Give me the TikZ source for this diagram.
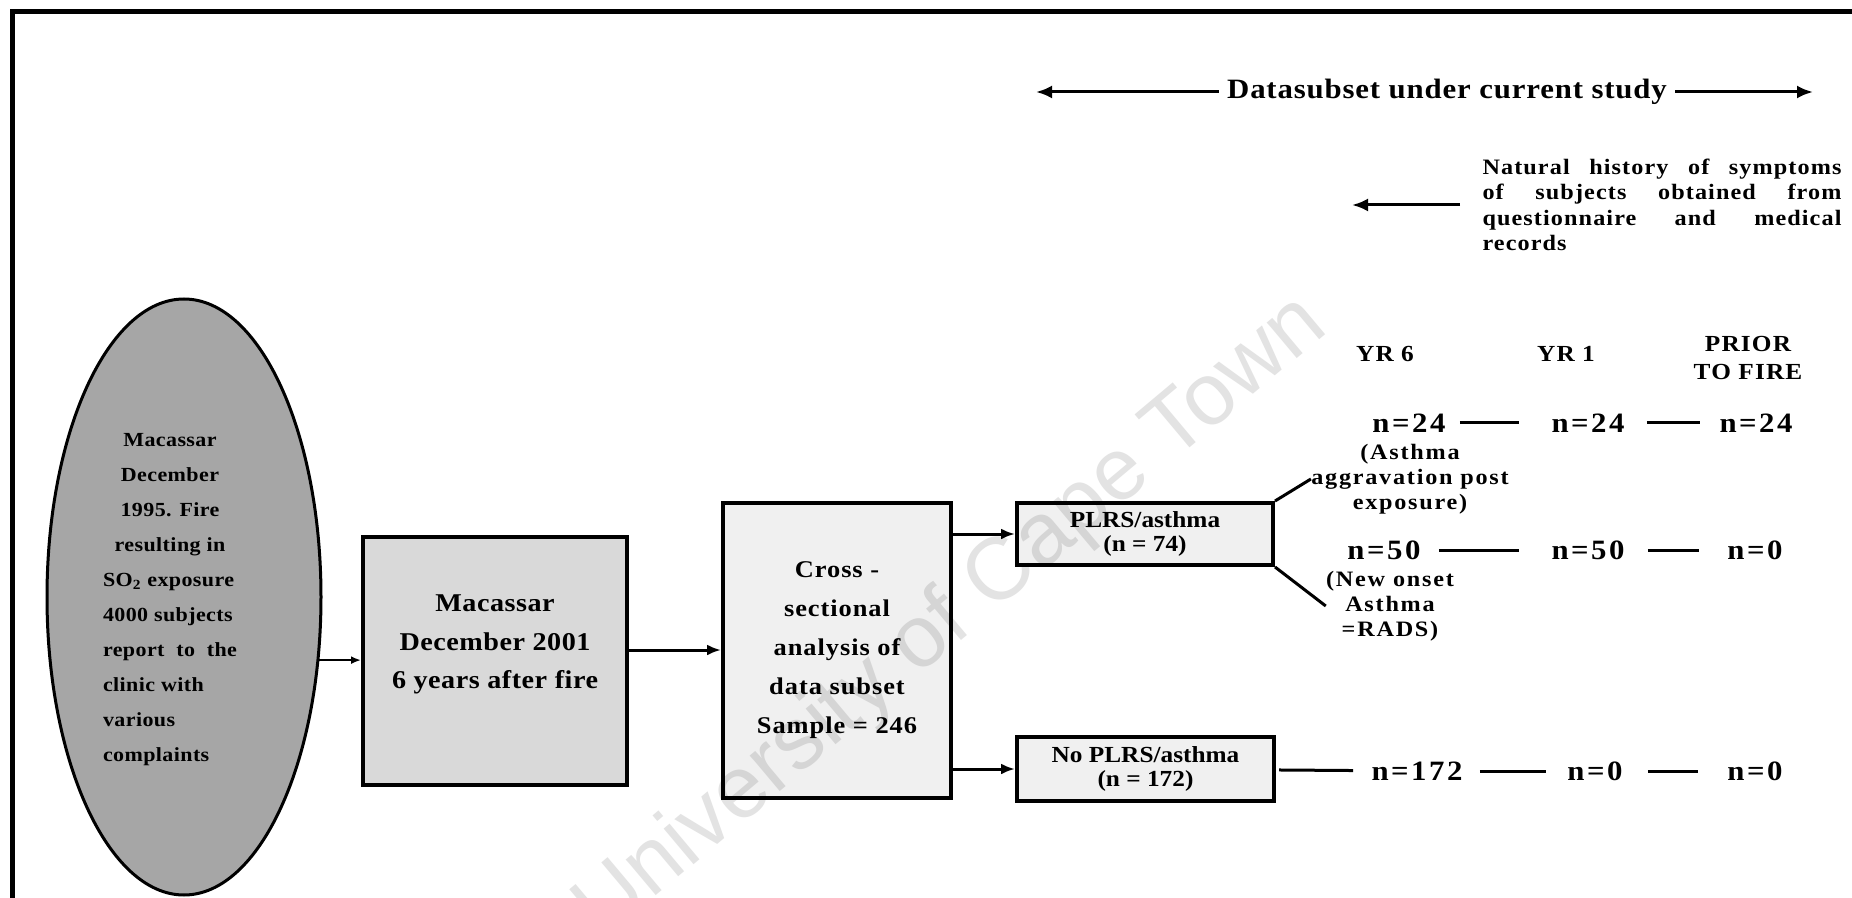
\documentclass[tikz,border=0pt]{standalone}
\usepackage{fontspec}
\setmainfont{Liberation Serif}[FakeStretch=1.1]
\setsansfont{Liberation Sans}
\usetikzlibrary{arrows.meta,positioning,shapes.geometric}

\begin{document}
\begin{tikzpicture}[
  x=0.5pt,y=-0.5pt,
  box/.style={draw,line width=2pt,inner sep=0pt,align=center},
  arrow/.style={-{Latex[length=7pt,width=5.5pt]},line width=1.5pt},
  link/.style={line width=1.5pt,shorten <=9pt,shorten >=12pt},
  value/.style={inner sep=0pt,font=\fontsize{14pt}{16pt}\selectfont\bfseries\addfontfeature{LetterSpace=9}},
  head/.style={inner sep=0pt,align=center,font=\fontsize{11.5pt}{13.5pt}\selectfont\bfseries\addfontfeature{LetterSpace=5}},
  note/.style={inner sep=0pt,align=center,font=\fontsize{11pt}{12.5pt}\selectfont\bfseries\addfontfeature{LetterSpace=8}}
]
\fill[white] (0,0) rectangle (1852,898);
\useasboundingbox (0,0) rectangle (1852,898);
\draw[line width=2.5pt] (12,898) -- (12,12) -- (1852,12);

% main flow
\node[ellipse,draw,line width=1.5pt,fill=black!35,minimum width=137pt,minimum height=298pt,inner sep=0pt,
  font=\fontsize{10pt}{17.5pt}\selectfont\bfseries\addfontfeature{LetterSpace=2}] (fire) at (184,597) {%
  \hspace*{-14pt}\begin{tabular}{@{}l@{}}
  \multicolumn{1}{@{}c@{}}{Macassar}\\
  \multicolumn{1}{@{}c@{}}{December}\\
  \multicolumn{1}{@{}c@{}}{1995. Fire}\\
  \multicolumn{1}{@{}c@{}}{resulting in}\\
  SO\textsubscript{2} exposure\\
  4000 subjects\\
  report \ to \ the\\
  clinic with\\
  various\\
  complaints
  \end{tabular}};
\node[box,fill=black!15,minimum width=132pt,minimum height=124pt,
  font=\fontsize{12.8pt}{19.25pt}\selectfont\bfseries\addfontfeature{LetterSpace=2}] (visit) at (495,661)
  {Macassar\\December 2001\\6 years after fire\\\mbox{}};
\node[box,fill=black!6,minimum width=114pt,minimum height=147.5pt,
  font=\fontsize{12pt}{19.5pt}\selectfont\bfseries\addfontfeature{LetterSpace=4}] (cross) at (837,650)
  {Cross -\\sectional\\analysis of\\data subset\\Sample = 246};
\node[box,fill=black!6,minimum width=128pt,minimum height=31pt,
  font=\fontsize{11.5pt}{12pt}\selectfont\bfseries] (plrs) at (1145,534) {PLRS/asthma\\(n = 74)};
\node[box,fill=black!6,minimum width=128.5pt,minimum height=32pt,
  font=\fontsize{11.5pt}{12pt}\selectfont\bfseries] (noplrs) at (1145.5,769) {No PLRS/asthma\\(n = 172)};

\draw[-{Latex[length=5pt,width=4pt]},line width=1pt] (fire.-25.6) -- (fire.-25.6 -| visit.west);
\draw[arrow] (cross.west -| visit.east) -- (cross.west);
\draw[arrow] (plrs.west -| cross.east) -- (plrs.west);
\draw[arrow] (noplrs.west -| cross.east) -- (noplrs.west);

% study period and history
\node[inner sep=4pt,font=\fontsize{14pt}{16pt}\selectfont\bfseries\addfontfeature{LetterSpace=3}] (subset) at (1447,92) {Datasubset under current study};
\coordinate (subl) at (1036,92);
\coordinate (subr) at (1813,92);
\draw[arrow,-{Latex[length=8pt,width=6.5pt]}] (subset.west) -- (subl);
\draw[arrow,-{Latex[length=8pt,width=6.5pt]}] (subset.east) -- (subr);

\node[text width=179.5pt,align=justify,inner sep=0pt,
  font=\fontsize{11pt}{12.75pt}\selectfont\bfseries\addfontfeature{LetterSpace=5}] (history) at (1662,205)
  {Natural history of symptoms\linebreak of subjects obtained from\linebreak questionnaire and medical\linebreak records};
\coordinate (histl) at (1352,205);
\draw[arrow,-{Latex[length=8pt,width=6.5pt]},shorten <=11pt] (history.west) -- (histl);

% columns
\node[head] (yr6) at (1385,354) {YR 6};
\node[head] (yr1) at (1566,354) {YR 1};
\node[head] (prior) at (1748,358) {PRIOR\\TO FIRE};

\node[value] (a24) at (1409,423) {n=24};
\node[value] (b24) at (1588,423) {n=24};
\node[value] (c24) at (1756,423) {n=24};
\node[note] (agg) at (1410,479) {(Asthma\\aggravation post\\exposure)};

\node[value] (a50) at (1384,550) {n=50};
\node[value] (b50) at (1588,550) {n=50};
\node[value] (c0) at (1755,550) {n=0};
\node[note] (rads) at (1390,606) {(New onset\\Asthma\\=RADS)};

\node[value] (a172) at (1417,771) {n=172};
\node[value] (b0) at (1595,771) {n=0};
\node[value] (c00) at (1755,771) {n=0};

\draw[line width=1.5pt] (plrs.north east) -- (agg.west);
\draw[line width=1.5pt] (plrs.south east) -- (rads.west);
\draw[link,shorten <=7pt,shorten >=16pt] (a24) -- (b24);
\draw[link,shorten <=11pt,shorten >=9.5pt] (b24) -- (c24);
\draw[link,shorten <=9pt,shorten >=16pt] (a50) -- (b50);
\draw[link,shorten <=11.5pt,shorten >=14pt] (b50) -- (c0);
\draw[link,shorten <=1.5pt,shorten >=9pt] (noplrs) -- (a172);
\draw[link,shorten <=8.5pt,shorten >=10.5pt] (a172) -- (b0);
\draw[link,shorten <=12.5pt,shorten >=14.5pt] (b0) -- (c00);

% watermark
\begin{scope}[blend mode=multiply]
\node[font=\sffamily\fontsize{44pt}{44pt}\selectfont,text=black!11,rotate=40] (mark) at (952,618) {University of Cape Town};
\end{scope}
\end{tikzpicture}
\end{document}
